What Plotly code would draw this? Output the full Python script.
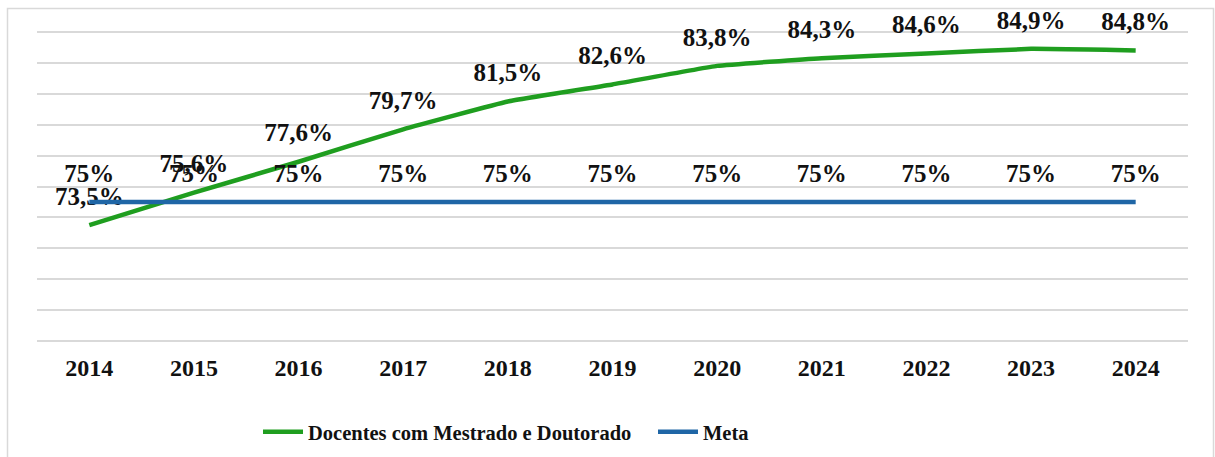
import plotly.graph_objects as go

years = ["2014", "2015", "2016", "2017", "2018", "2019", "2020", "2021", "2022", "2023", "2024"]
docentes = [73.5, 75.6, 77.6, 79.7, 81.5, 82.6, 83.8, 84.3, 84.6, 84.9, 84.8]
meta = [75, 75, 75, 75, 75, 75, 75, 75, 75, 75, 75]
docentes_labels = ["73,5%", "75,6%", "77,6%", "79,7%", "81,5%", "82,6%", "83,8%", "84,3%", "84,6%", "84,9%", "84,8%"]
meta_labels = ["75%"] * 11

GREEN = "#1f9e1f"
BLUE = "#1f66a6"
FONT = "Liberation Serif"
LABEL_FONT = dict(family=FONT, size=25, color="#111", weight="bold")
CLEAR = "rgba(0,0,0,0)"

fig = go.Figure()
fig.add_trace(go.Scatter(x=years, y=docentes, mode="lines+markers+text",
                         name="Docentes com Mestrado e Doutorado",
                         text=docentes_labels, textposition="top center", textfont=LABEL_FONT,
                         cliponaxis=False,
                         marker=dict(size=21, color=CLEAR, line=dict(width=0)),
                         line=dict(color=GREEN, width=4.5, shape="spline", smoothing=0.3)))
fig.add_trace(go.Scatter(x=years, y=meta, mode="lines+markers+text", name="Meta",
                         text=meta_labels, textposition="top center", textfont=LABEL_FONT,
                         cliponaxis=False,
                         marker=dict(size=21, color=CLEAR, line=dict(width=0)),
                         line=dict(color=BLUE, width=4.5)))

W, H = 1215, 457
L, R, T, B = 37, 27, 30, 114
pw, ph = W - L - R, H - T - B

def px_x(p):
    return (p - L) / pw

def px_y(p):
    return (H - B - p) / ph

fig.update_layout(
    width=W, height=H,
    margin=dict(l=L, r=R, t=T, b=B, autoexpand=False),
    paper_bgcolor="white", plot_bgcolor="white",
    showlegend=True,
    legend=dict(orientation="h", x=px_x(258), xanchor="left", y=px_y(432), yanchor="middle",
                font=dict(family=FONT, size=20.5, color="#111", weight="bold"), itemwidth=40,
                entrywidth=340, bgcolor=CLEAR),
    shapes=[dict(type="rect", xref="paper", yref="paper",
                 x0=px_x(7.5), x1=px_x(1213.5), y0=px_y(470), y1=px_y(8.5),
                 line=dict(color="#d9d9d9", width=1.5), layer="below")],
    xaxis=dict(type="category", range=[-0.5, 10.5], showgrid=False, zeroline=False, showline=False,
               automargin=False,
               ticks="outside", ticklen=3, tickcolor=CLEAR,
               tickfont=dict(family=FONT, size=24, color="#111", weight="bold")),
    yaxis=dict(range=[65.88, 86.12], dtick=2, tick0=66, showgrid=True, gridcolor="#d9d9d9", gridwidth=1.5,
               automargin=False,
               showticklabels=False, zeroline=False, showline=False),
)

fig.write_html("out.html", config={"displayModeBar": False},
               post_script="document.body.style.margin='0';")
